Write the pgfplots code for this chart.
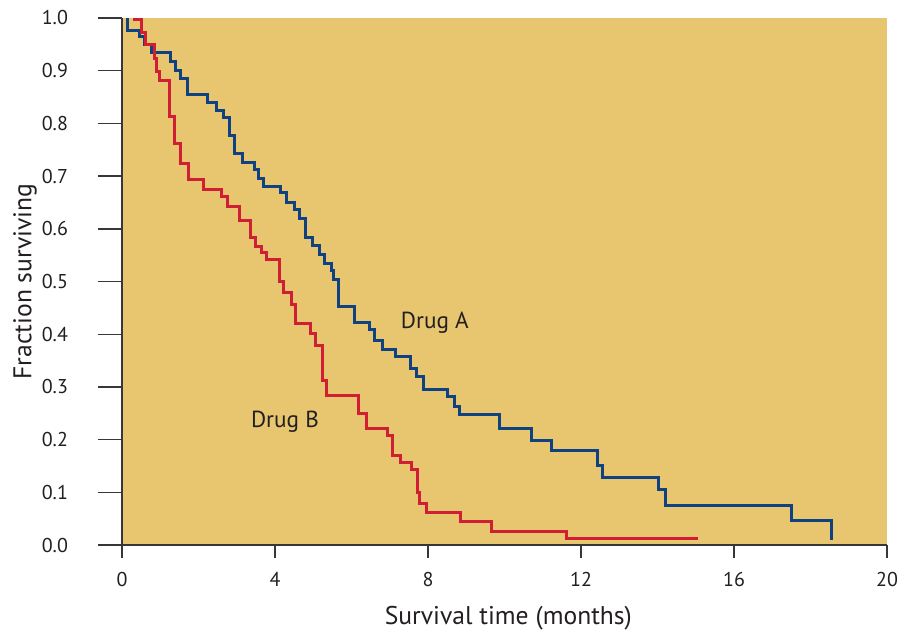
\documentclass[border=0pt]{standalone}
\usepackage{fontspec}
\setmainfont{PT Sans}
\usepackage{pgfplots}
\pgfplotsset{compat=1.18}
\usetikzlibrary{calc}
\definecolor{bg}{RGB}{232,198,112}
\definecolor{drugA}{RGB}{16,66,130}
\definecolor{drugB}{RGB}{208,30,52}
\definecolor{axgray}{RGB}{55,55,55}
\definecolor{txt}{RGB}{35,31,32}
\begin{document}
\begin{tikzpicture}
\useasboundingbox (-61pt,-43.5pt) rectangle (395.5pt,272.5pt);
\begin{axis}[
  at={(0,0)}, anchor=south west,
  scale only axis, width=382.5pt, height=263.5pt,
  xmin=0, xmax=20, ymin=0, ymax=1,
  axis background/.style={fill=bg},
  axis x line*=bottom, axis y line*=left,
  axis line style={axgray, line width=0.9pt},
  xtick={0,4,8,12,16,20},
  ytick={0,0.1,0.2,0.3,0.4,0.5,0.6,0.7,0.8,0.9,1.0},
  yticklabel style={/pgf/number format/.cd, fixed, fixed zerofill, precision=1},
  tick align=outside,
  tick style={axgray, line width=0.7pt},
  major tick length=12pt,
  major x tick style={/pgfplots/major tick length=6.5pt},
  xticklabel shift=-1.7pt,
  yticklabel shift=11.5pt,
  /pgf/number format/assume math mode=true,
  tick label style={font=\fontsize{10}{12}\selectfont, text=txt},
  xlabel={Survival time (months)}, ylabel={Fraction surviving},
  label style={font=\fontsize{12.8}{15}\selectfont, text=txt},
  xlabel style={at={($(rel axis cs:0.505,0)+(0,-36.5pt)$)}, anchor=center},
  ylabel style={at={($(rel axis cs:0,0.5)+(-48.5pt,0)$)}, anchor=center},
  clip=false,
]
\addplot[const plot, drugA, line width=1.5pt] coordinates {
(0.15,1.0) (0.15,0.977) (0.45,0.965) (0.60,0.949) (0.78,0.934) (1.28,0.917) (1.40,0.901)
(1.53,0.886) (1.71,0.855) (2.24,0.839) (2.47,0.825) (2.65,0.811) (2.81,0.777) (2.95,0.742)
(3.16,0.725) (3.46,0.712) (3.58,0.696) (3.71,0.680) (4.14,0.669) (4.29,0.650) (4.51,0.636)
(4.63,0.620) (4.81,0.583) (4.97,0.568) (5.16,0.552) (5.30,0.534) (5.47,0.520) (5.53,0.503)
(5.67,0.452) (6.09,0.422) (6.47,0.408) (6.59,0.388) (6.81,0.371) (7.14,0.358) (7.55,0.335)
(7.71,0.319) (7.88,0.295) (8.52,0.281) (8.68,0.263) (8.82,0.247) (9.86,0.222) (10.71,0.199)
(11.22,0.180) (12.44,0.150) (12.57,0.129) (14.02,0.106) (14.21,0.075) (17.51,0.046) (18.55,0.009)
};
\addplot[const plot, drugB, line width=1.5pt] coordinates {
(0.30,0.997) (0.51,0.973) (0.62,0.950) (0.85,0.923) (0.91,0.899) (0.98,0.881) (1.23,0.814)
(1.37,0.762) (1.52,0.724) (1.73,0.693) (2.13,0.674) (2.61,0.661) (2.75,0.642) (3.08,0.616)
(3.36,0.583) (3.48,0.566) (3.65,0.555) (3.79,0.541) (4.13,0.500) (4.22,0.479) (4.44,0.456)
(4.53,0.421) (4.92,0.402) (5.07,0.378) (5.25,0.313) (5.35,0.283) (6.18,0.249) (6.40,0.222)
(6.93,0.207) (7.08,0.169) (7.29,0.157) (7.57,0.144) (7.73,0.099) (7.79,0.079) (7.95,0.062)
(8.84,0.044) (9.67,0.025) (11.62,0.012) (15.05,0.012)
};
\node[font=\fontsize{11.6}{14}\selectfont, text=txt] at (axis cs:8.18,0.421) {Drug A};
\node[font=\fontsize{11.6}{14}\selectfont, text=txt] at (axis cs:4.26,0.233) {Drug B};
\end{axis}
\end{tikzpicture}
\end{document}
